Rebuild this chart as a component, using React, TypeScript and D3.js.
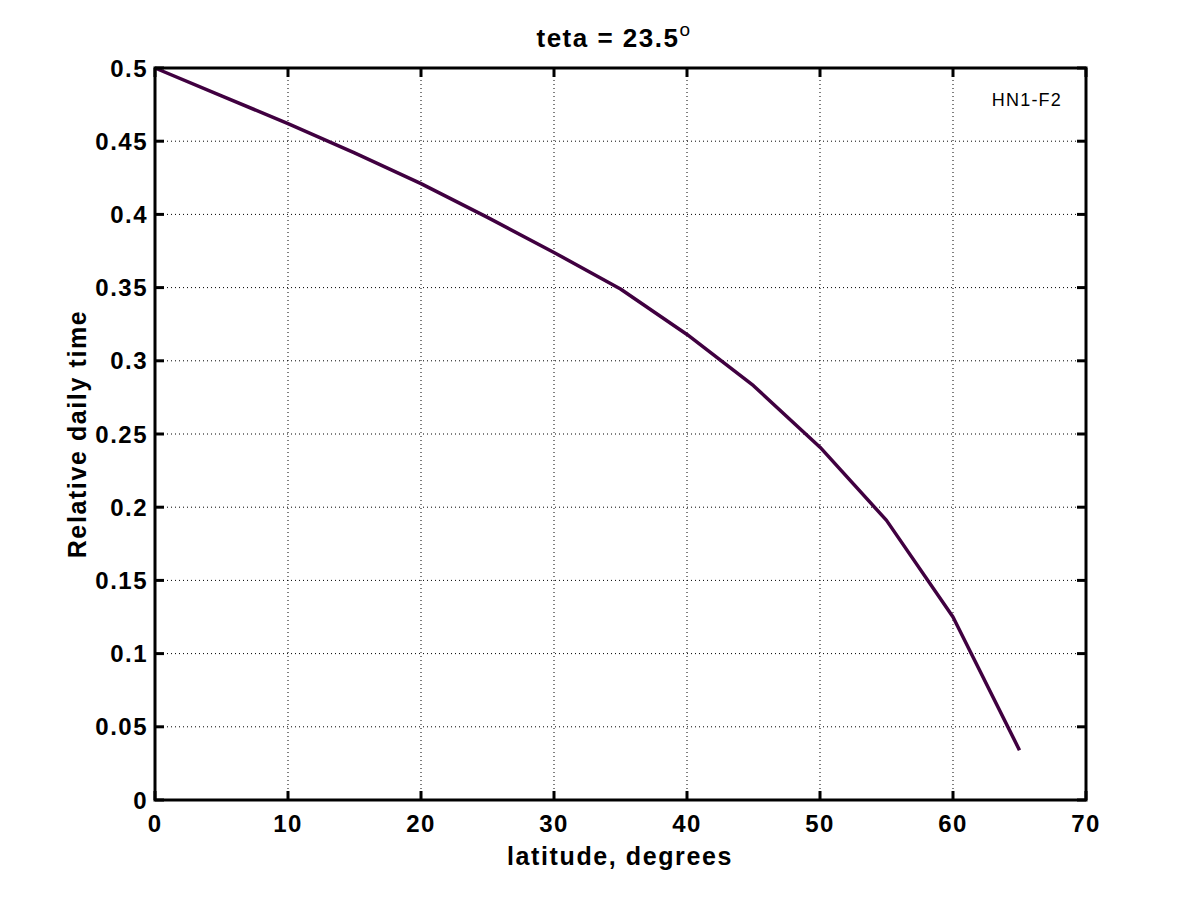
import React from "react";
import * as d3 from "d3";

const latitudes = [0, 5, 10, 15, 20, 25, 30, 35, 40, 45, 50, 55, 60, 65];
const relTime = [0.5, 0.481, 0.462, 0.442, 0.421, 0.398, 0.374, 0.349, 0.318, 0.283, 0.241, 0.191, 0.125, 0.034];
const xTicks = [0, 10, 20, 30, 40, 50, 60, 70];
const yTicks = [0, 0.05, 0.1, 0.15, 0.2, 0.25, 0.3, 0.35, 0.4, 0.45, 0.5];
const yTickLabels = ["0", "0.05", "0.1", "0.15", "0.2", "0.25", "0.3", "0.35", "0.4", "0.45", "0.5"];

const W = 1200, H = 900;
const L = 155, R = 1086, T = 68, B = 800;
const FONT = "'Liberation Sans', Arial, Helvetica, sans-serif";

export default function App() {
  const x = d3.scaleLinear().domain([0, 70]).range([L, R]);
  const y = d3.scaleLinear().domain([0, 0.5]).range([B, T]);
  const line = d3.line<number>().x((_, i) => x(latitudes[i])).y((d) => y(d));
  const tickLen = 9;
  return (
    <svg width={W} height={H} style={{ position: "absolute", left: 0, top: 0, background: "#fff" }}>
      <rect x={0} y={0} width={W} height={H} fill="#fff" />
      {/* grid */}
      {xTicks.slice(1, -1).map((t) => (
        <line key={"gx" + t} x1={x(t)} x2={x(t)} y1={T} y2={B} stroke="#000" strokeWidth={1} strokeDasharray="1,3" />
      ))}
      {yTicks.slice(1, -1).map((t) => (
        <line key={"gy" + t} x1={L} x2={R} y1={y(t)} y2={y(t)} stroke="#000" strokeWidth={1} strokeDasharray="1,3" />
      ))}
      {/* data line */}
      <path d={line(relTime) || ""} fill="none" stroke="#400040" strokeWidth={3.5} strokeLinejoin="round" />
      {/* ticks */}
      {xTicks.map((t) => (
        <g key={"tx" + t}>
          <line x1={x(t)} x2={x(t)} y1={B} y2={B - tickLen} stroke="#000" strokeWidth={3} />
          <line x1={x(t)} x2={x(t)} y1={T} y2={T + tickLen} stroke="#000" strokeWidth={3} />
          <text x={x(t)} y={832} textAnchor="middle" fontFamily={FONT} fontWeight="bold" fontSize={24} letterSpacing={1.3}>{t}</text>
        </g>
      ))}
      {yTicks.map((t, i) => (
        <g key={"ty" + t}>
          <line x1={L} x2={L + tickLen} y1={y(t)} y2={y(t)} stroke="#000" strokeWidth={3} />
          <line x1={R} x2={R - tickLen} y1={y(t)} y2={y(t)} stroke="#000" strokeWidth={3} />
          <text x={148} y={y(t)} dy="0.36em" textAnchor="end" fontFamily={FONT} fontWeight="bold" fontSize={24} letterSpacing={1.5}>{yTickLabels[i]}</text>
        </g>
      ))}
      {/* axes box */}
      <rect x={L} y={T} width={R - L} height={B - T} fill="none" stroke="#000" strokeWidth={3} />
      {/* title */}
      <text x={614} y={47} textAnchor="middle" fontFamily={FONT} fontWeight="bold" fontSize={26} letterSpacing={1.5}>
        teta = 23.5<tspan dy={-11} fontSize={19} fontWeight="normal">o</tspan>
      </text>
      {/* axis labels */}
      <text x={620} y={865} textAnchor="middle" fontFamily={FONT} fontWeight="bold" fontSize={25} letterSpacing={1.6}>latitude, degrees</text>
      <text transform={`translate(86,${(T + B) / 2}) rotate(-90)`} textAnchor="middle" fontFamily={FONT} fontWeight="bold" fontSize={25} letterSpacing={1.6}>Relative daily time</text>
      {/* annotation */}
      <text x={1062} y={106} textAnchor="end" fontFamily={FONT} fontSize={18} letterSpacing={1.2}>HN1-F2</text>
    </svg>
  );
}
